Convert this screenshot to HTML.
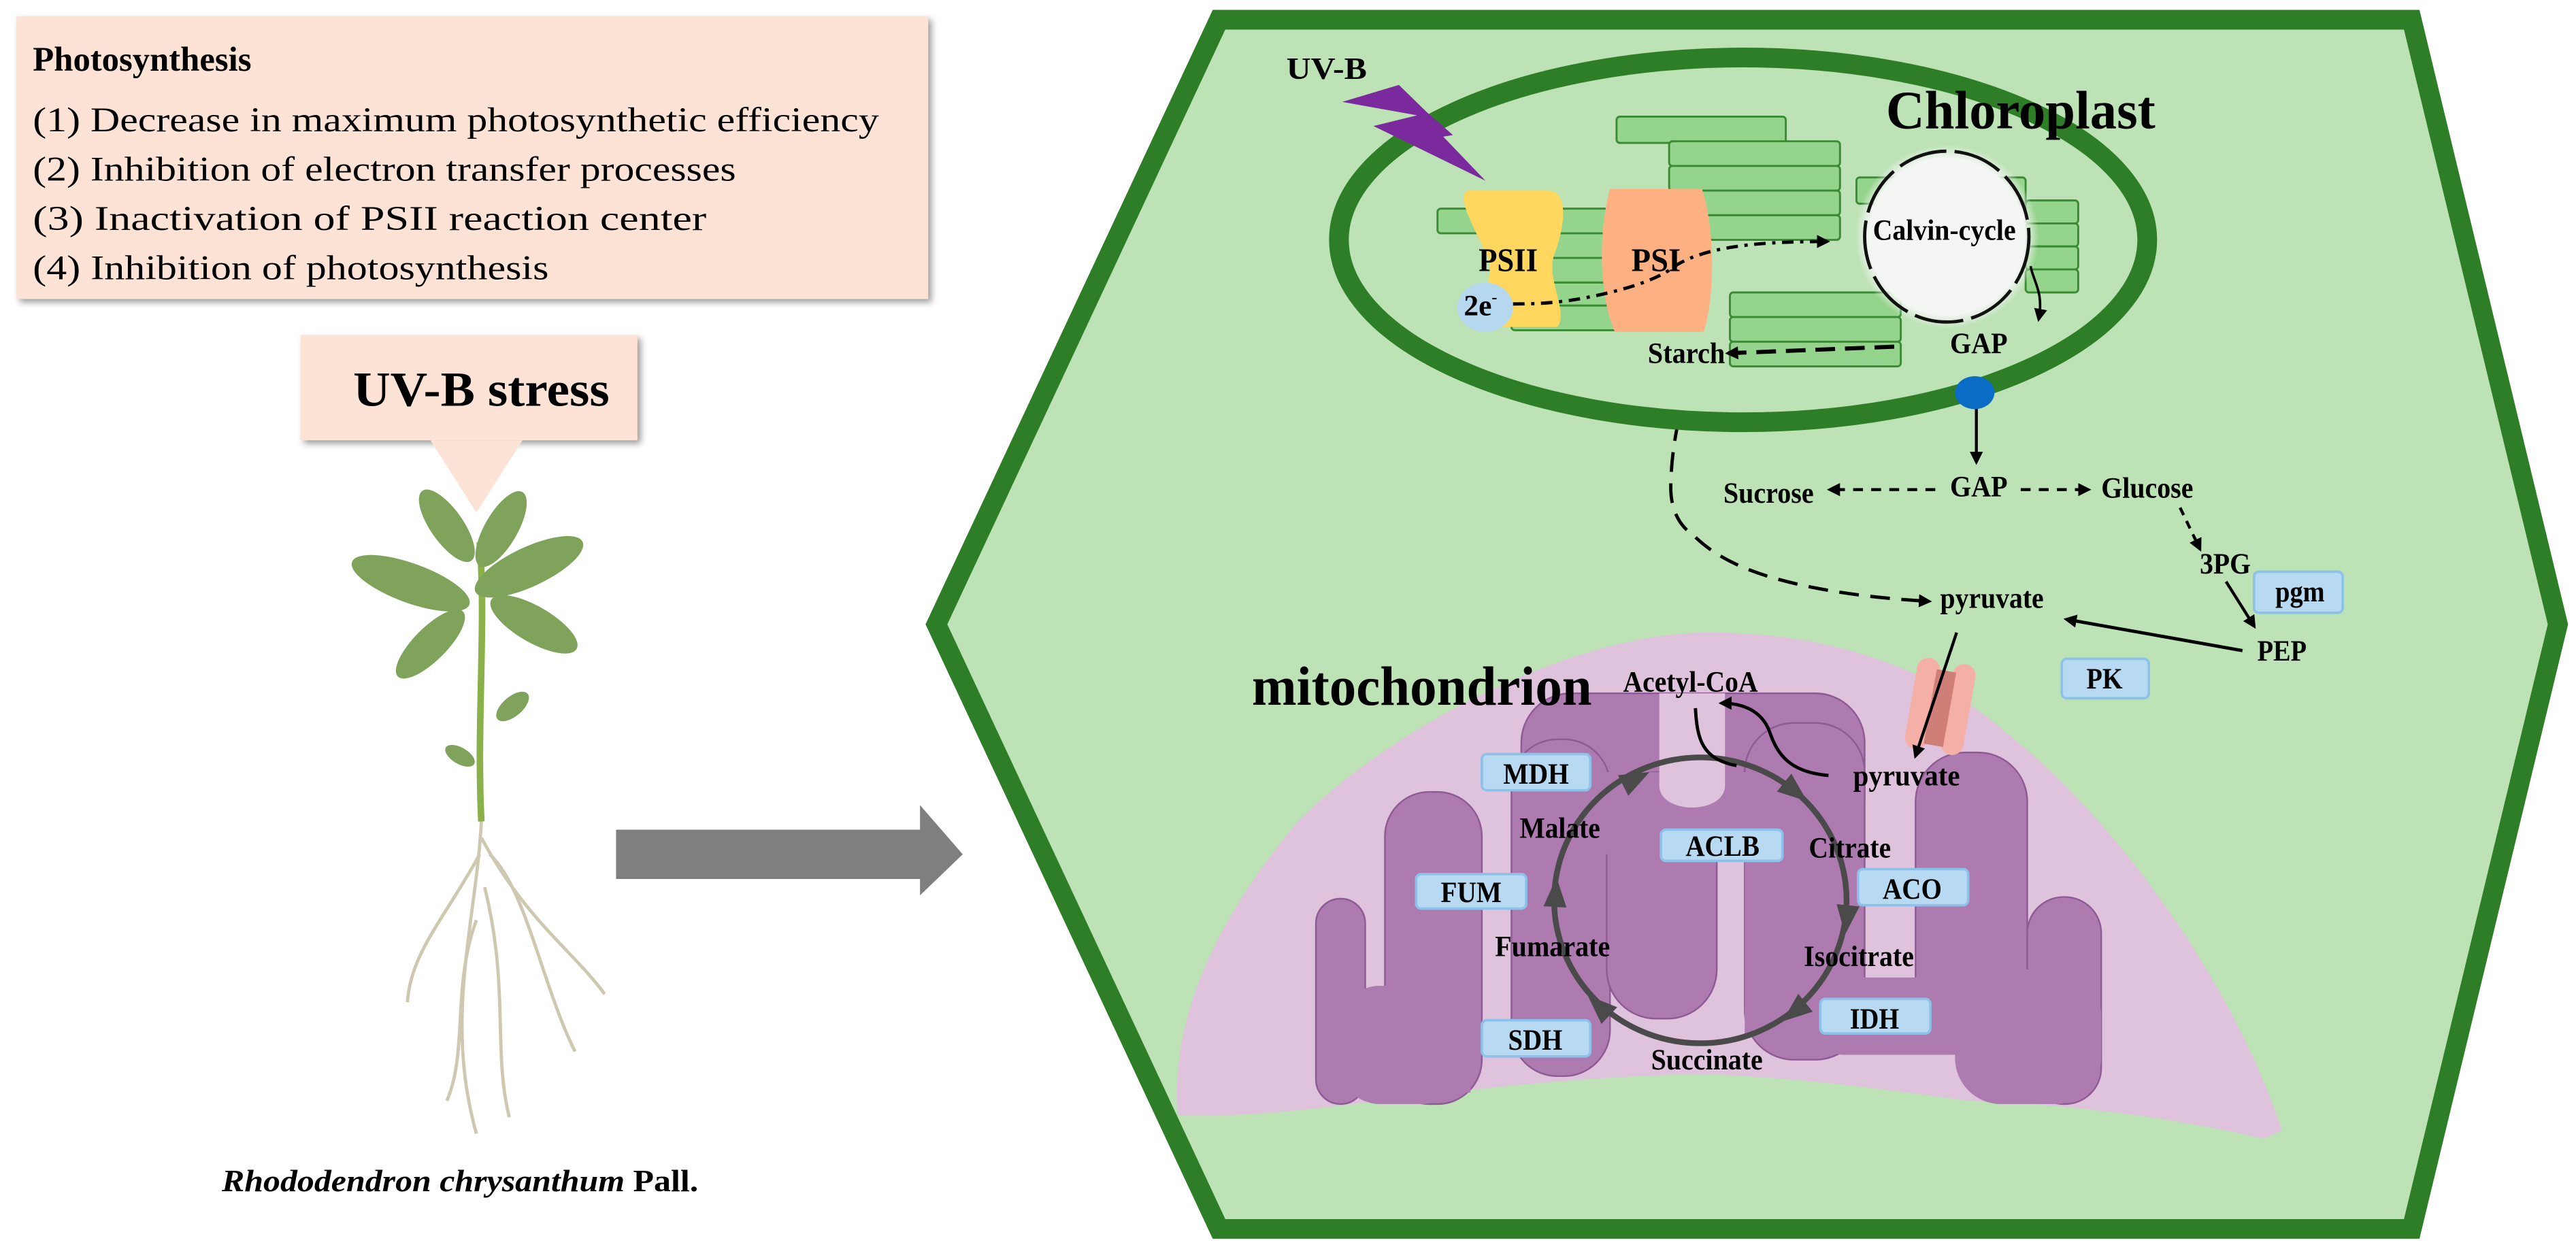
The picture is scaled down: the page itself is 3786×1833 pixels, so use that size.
<!DOCTYPE html>
<html><head><meta charset="utf-8"><style>
html,body{margin:0;padding:0;background:#fff;}
svg{display:block;}
text{font-family:"Liberation Serif",serif;font-weight:bold;fill:#000;}
</style></head><body>
<svg width="3786" height="1833" viewBox="0 0 1568 759" preserveAspectRatio="none" xmlns="http://www.w3.org/2000/svg">
<defs>
<marker id="ah" markerWidth="8" markerHeight="8" refX="6" refY="4" orient="auto" markerUnits="userSpaceOnUse"><path d="M0,0 L8,4 L0,8 Z" fill="#000"/></marker>
<filter id="sh"><feDropShadow dx="2" dy="2" stdDeviation="2" flood-color="#999"/></filter>
<radialGradient id="cg"><stop offset="0.85" stop-color="#f4f6f4"/><stop offset="1" stop-color="#f4f6f4" stop-opacity="0"/></radialGradient>
</defs>

<!-- Left panel -->
<rect x="10" y="10" width="555" height="172" fill="#fde3d5" filter="url(#sh)"/>
<text x="20" y="43" font-size="21">Photosynthesis</text>
<g font-size="21">
<text x="20" y="80" textLength="515" lengthAdjust="spacingAndGlyphs" style="font-weight:normal">(1) Decrease in maximum photosynthetic efficiency</text>
<text x="20" y="110" textLength="428" lengthAdjust="spacingAndGlyphs" style="font-weight:normal">(2) Inhibition of electron transfer processes</text>
<text x="20" y="140" textLength="410" lengthAdjust="spacingAndGlyphs" style="font-weight:normal">(3) Inactivation of PSII reaction center</text>
<text x="20" y="170" textLength="314" lengthAdjust="spacingAndGlyphs" style="font-weight:normal">(4) Inhibition of photosynthesis</text>
</g>

<rect x="183" y="204" width="205" height="64" fill="#fde3d5" filter="url(#sh)"/>
<path d="M262,268 L318,268 L290,312 Z" fill="#fde3d5"/>
<text x="215" y="247" font-size="30" textLength="156" lengthAdjust="spacingAndGlyphs">UV-B stress</text>

<!-- plant -->
<g>
<path d="M292,330 C296,380 290,440 293,500" stroke="#8ab04a" stroke-width="4" fill="none"/>
<g fill="#7fa35a">
<ellipse cx="250" cy="355" rx="38" ry="12" transform="rotate(20 250 355)"/>
<ellipse cx="322" cy="345" rx="36" ry="12" transform="rotate(-25 322 345)"/>
<ellipse cx="305" cy="322" rx="26" ry="10" transform="rotate(-60 305 322)"/>
<ellipse cx="272" cy="320" rx="26" ry="10" transform="rotate(55 272 320)"/>
<ellipse cx="325" cy="380" rx="30" ry="11" transform="rotate(30 325 380)"/>
<ellipse cx="262" cy="392" rx="28" ry="10" transform="rotate(-45 262 392)"/>
<ellipse cx="312" cy="430" rx="12" ry="6" transform="rotate(-40 312 430)"/>
<ellipse cx="280" cy="460" rx="10" ry="5" transform="rotate(30 280 460)"/>
</g>
<g stroke="#cfc8b0" stroke-width="2" fill="none">
<path d="M293,500 C290,560 270,620 290,690"/>
<path d="M293,510 C320,560 350,580 368,605"/>
<path d="M292,520 C270,560 250,580 248,610"/>
<path d="M295,540 C310,600 300,640 310,680"/>
<path d="M290,560 C275,600 285,640 272,670"/>
<path d="M298,520 C320,540 330,600 350,640"/>
</g>
</g>
<text x="135" y="725" font-size="19" textLength="290" lengthAdjust="spacingAndGlyphs"><tspan font-style="italic">Rhododendron chrysanthum</tspan> Pall.</text>

<!-- gray arrow -->
<rect x="375" y="505" width="190" height="30" fill="#7f7f7f"/>
<path d="M560,490 L586,520 L560,545 Z" fill="#7f7f7f"/>

<!-- Hexagon cell -->
<path d="M742,12 L1468,12 L1557,380 L1468,748 L742,748 L570,380 Z" fill="#bce2b6" stroke="#2e7d27" stroke-width="12"/>

<!-- Mitochondrion -->
<path d="M717,679 C712,620 740,560 790,500 C850,440 960,385 1040,385 C1120,385 1180,410 1220,445 C1290,500 1360,600 1389,688 L1378,693 C1320,680 1260,672 1198,670 C1140,662 1080,654 1027,654 C950,656 890,664 839,670 C800,675 760,680 717,679 Z" fill="#dfc3dd"/>
<g fill="#ad7bb0" stroke="#8d5a93" stroke-width="1">
<rect x="801" y="547" width="30" height="125" rx="15"/>
<rect x="843" y="482" width="59" height="190" rx="27"/>
<rect x="926" y="422" width="209" height="95" rx="30"/>
<rect x="920" y="450" width="60" height="205" rx="28"/>
<rect x="978" y="470" width="67" height="150" rx="30"/>
<rect x="1062" y="440" width="73" height="205" rx="30"/>
<rect x="1166" y="458" width="68" height="170" rx="30"/>
<rect x="1234" y="546" width="45" height="126" rx="22"/>
</g>
<g fill="#ad7bb0">
<rect x="815" y="600" width="75" height="72" rx="25"/>
<rect x="1100" y="595" width="110" height="47" rx="22"/>
<rect x="1190" y="590" width="89" height="82" rx="28"/>
<rect x="930" y="470" width="200" height="50"/>
<rect x="1062" y="480" width="60" height="150"/>
<rect x="1170" y="480" width="60" height="140"/>
<rect x="850" y="500" width="45" height="165"/>
<rect x="925" y="470" width="50" height="170"/>
</g>
<path d="M1010,422 L1010,478 C1010,496 1050,496 1050,478 L1050,422 Z" fill="#dfc3dd"/>
<path d="M1046,622 L1046,520 C1046,506 1060,506 1060,520 L1060,622 Z" fill="#dfc3dd"/>

<!-- TCA cycle -->
<ellipse cx="1035" cy="548" rx="89" ry="87" fill="none" stroke="#4a4a4a" stroke-width="3.5"/>
<g fill="#4a4a4a">
<g transform="translate(1093,482) rotate(39)"><path d="M-9,-7 L9,0 L-9,7Z"/></g>
<g transform="translate(1124,560) rotate(96)"><path d="M-9,-7 L9,0 L-9,7Z"/></g>
<g transform="translate(1092,616) rotate(141)"><path d="M-9,-7 L9,0 L-9,7Z"/></g>
<g transform="translate(973,612) rotate(223)"><path d="M-9,-7 L9,0 L-9,7Z"/></g>
<g transform="translate(947,543) rotate(273)"><path d="M-9,-7 L9,0 L-9,7Z"/></g>
<g transform="translate(996,474) rotate(333)"><path d="M-9,-7 L9,0 L-9,7Z"/></g>
</g>
<path d="M1032,431 C1033,450 1036,462 1057,466" stroke="#000" stroke-width="2" fill="none"/>
<path d="M1113,472 C1090,470 1082,460 1077,445 C1072,432 1060,428 1048,428" stroke="#000" stroke-width="2" fill="none" marker-end="url(#ah)"/>

<!-- transporter -->
<g transform="rotate(10 1181 430)">
<rect x="1163" y="402" width="14" height="56" rx="7" fill="#f4b0a6"/>
<rect x="1185" y="402" width="14" height="56" rx="7" fill="#f4b0a6"/>
<rect x="1175" y="408" width="12" height="46" fill="#cf7f77"/>
</g>
<line x1="1191" y1="385" x2="1166" y2="460" stroke="#000" stroke-width="1.8" marker-end="url(#ah)"/>

<!-- enzyme boxes -->
<g fill="#b7daf2" stroke="#8cc2ea" stroke-width="1.5">
<rect x="902" y="459" width="66" height="22" rx="3"/>
<rect x="1011" y="505" width="74" height="19" rx="3"/>
<rect x="1131" y="529" width="67" height="22" rx="3"/>
<rect x="862" y="532" width="67" height="21" rx="3"/>
<rect x="1108" y="608" width="67" height="21" rx="3"/>
<rect x="902" y="621" width="66" height="22" rx="3"/>
<rect x="1255" y="401" width="53" height="24" rx="3"/>
<rect x="1372" y="348" width="54" height="25" rx="3"/>
</g>
<g font-size="18">
<text x="915" y="477" textLength="40" lengthAdjust="spacingAndGlyphs">MDH</text>
<text x="1026" y="521" textLength="45" lengthAdjust="spacingAndGlyphs">ACLB</text>
<text x="1146" y="547" textLength="36" lengthAdjust="spacingAndGlyphs">ACO</text>
<text x="877" y="549" textLength="37" lengthAdjust="spacingAndGlyphs">FUM</text>
<text x="1126" y="626" textLength="30" lengthAdjust="spacingAndGlyphs">IDH</text>
<text x="918" y="639" textLength="33" lengthAdjust="spacingAndGlyphs">SDH</text>
<text x="1270" y="419" textLength="22" lengthAdjust="spacingAndGlyphs">PK</text>
<text x="1385" y="366" textLength="30" lengthAdjust="spacingAndGlyphs">pgm</text>
<text x="925" y="510" textLength="49" lengthAdjust="spacingAndGlyphs">Malate</text>
<text x="1101" y="522" textLength="50" lengthAdjust="spacingAndGlyphs">Citrate</text>
<text x="910" y="582" textLength="70" lengthAdjust="spacingAndGlyphs">Fumarate</text>
<text x="1098" y="588" textLength="67" lengthAdjust="spacingAndGlyphs">Isocitrate</text>
<text x="1005" y="651" textLength="68" lengthAdjust="spacingAndGlyphs">Succinate</text>
<text x="988" y="421" textLength="82" lengthAdjust="spacingAndGlyphs">Acetyl-CoA</text>
<text x="1128" y="478" textLength="65" lengthAdjust="spacingAndGlyphs">pyruvate</text>
<text x="1181" y="370" textLength="63" lengthAdjust="spacingAndGlyphs">pyruvate</text>
<text x="1374" y="402" textLength="30" lengthAdjust="spacingAndGlyphs">PEP</text>
<text x="1339" y="349" textLength="31" lengthAdjust="spacingAndGlyphs">3PG</text>
<text x="1279" y="303" textLength="56" lengthAdjust="spacingAndGlyphs">Glucose</text>
<text x="1049" y="306" textLength="55" lengthAdjust="spacingAndGlyphs">Sucrose</text>
<text x="1187" y="302" textLength="35" lengthAdjust="spacingAndGlyphs">GAP</text>
</g>
<text x="762" y="429" font-size="34" textLength="207" lengthAdjust="spacingAndGlyphs">mitochondrion</text>

<!-- cytosol arrows -->
<line x1="1203" y1="224" x2="1203" y2="281" stroke="#000" stroke-width="1.8" marker-end="url(#ah)"/>
<line x1="1178" y1="298" x2="1114" y2="298" stroke="#000" stroke-width="1.8" stroke-dasharray="6,5" marker-end="url(#ah)"/>
<line x1="1230" y1="298" x2="1271" y2="298" stroke="#000" stroke-width="1.8" stroke-dasharray="6,5" marker-end="url(#ah)"/>
<line x1="1327" y1="309" x2="1339" y2="334" stroke="#000" stroke-width="1.8" stroke-dasharray="5,4" marker-end="url(#ah)"/>
<line x1="1355" y1="354" x2="1372" y2="381" stroke="#000" stroke-width="1.8" marker-end="url(#ah)"/>
<line x1="1365" y1="396" x2="1258" y2="377" stroke="#000" stroke-width="2" marker-end="url(#ah)"/>
<path d="M1026,238 C1020,260 1017,280 1017,297 C1017,310 1022,320 1031,326 C1045,340 1065,348 1084,353 C1110,360 1140,364 1174,366" stroke="#000" stroke-width="2" fill="none" stroke-dasharray="12,7" marker-end="url(#ah)"/>

<!-- Chloroplast -->
<ellipse cx="1061" cy="146" rx="246" ry="111" fill="#bce2b6" stroke="#2e7d27" stroke-width="12"/>
<g fill="#95d48c" stroke="#3a8a34" stroke-width="1.2">
<rect x="984" y="71" width="103" height="16" rx="2"/>
<rect x="1016" y="86" width="104" height="15" rx="2"/>
<rect x="1016" y="101" width="104" height="15" rx="2"/>
<rect x="1016" y="116" width="104" height="15" rx="2"/>
<rect x="1016" y="131" width="104" height="15" rx="2"/>
<rect x="875" y="127" width="105" height="15" rx="2"/>
<rect x="930" y="142" width="55" height="15" rx="2"/>
<rect x="930" y="157" width="55" height="15" rx="2"/>
<rect x="930" y="172" width="55" height="14" rx="2"/>
<rect x="920" y="186" width="65" height="15" rx="2"/>
<rect x="1130" y="108" width="103" height="16" rx="2"/>
<rect x="1233" y="122" width="32" height="14" rx="2"/>
<rect x="1233" y="136" width="32" height="14" rx="2"/>
<rect x="1233" y="150" width="32" height="14" rx="2"/>
<rect x="1233" y="164" width="32" height="14" rx="2"/>
<rect x="1053" y="178" width="104" height="15" rx="2"/>
<rect x="1053" y="193" width="104" height="15" rx="2"/>
<rect x="1053" y="208" width="104" height="15" rx="2"/>
</g>
<path d="M895,116 L942,116 C956,116 952,140 946,155 C941,170 955,190 948,199 L905,199 C895,190 912,170 905,155 C898,140 884,116 895,116 Z" fill="#ffd75e"/>
<path d="M980,115 L1036,115 C1044,140 1044,180 1037,202 L983,202 C973,180 973,140 980,115 Z" fill="#fdb182"/>
<ellipse cx="904" cy="187" rx="17" ry="15" fill="#b5d8ee"/>
<text x="900" y="165" font-size="20" textLength="36" lengthAdjust="spacingAndGlyphs">PSII</text>
<text x="993" y="165" font-size="20" textLength="30" lengthAdjust="spacingAndGlyphs">PSI</text>
<text x="891" y="192" font-size="18">2e<tspan font-size="10" dy="-8">-</tspan></text>
<path d="M921,185 C940,185 955,184 980,178 C1000,173 1012,168 1021,161 C1040,150 1070,147 1112,147" stroke="#000" stroke-width="2" fill="none" stroke-dasharray="7,4,2,4" marker-end="url(#ah)"/>
<circle cx="1185" cy="144" r="56" fill="url(#cg)"/>
<ellipse cx="1185" cy="144" rx="50" ry="52" fill="none" stroke="#111" stroke-width="2" stroke-dasharray="30,5"/>
<text x="1140" y="146" font-size="18" textLength="87" lengthAdjust="spacingAndGlyphs">Calvin-cycle</text>
<path d="M1236,162 C1238,172 1244,178 1241,194" stroke="#000" stroke-width="1.5" fill="none" marker-end="url(#ah)"/>
<line x1="1153" y1="211" x2="1052" y2="215" stroke="#000" stroke-width="2.5" stroke-dasharray="12,6" marker-end="url(#ah)"/>
<ellipse cx="1202" cy="239" rx="12" ry="10" fill="#0a6cc4"/>
<text x="1187" y="215" font-size="18" textLength="35" lengthAdjust="spacingAndGlyphs">GAP</text>
<text x="1003" y="221" font-size="18" textLength="47" lengthAdjust="spacingAndGlyphs">Starch</text>
<text x="1148" y="78" font-size="33" textLength="164" lengthAdjust="spacingAndGlyphs">Chloroplast</text>

<!-- UV-B -->
<text x="783" y="48" font-size="19" textLength="49" lengthAdjust="spacingAndGlyphs">UV-B</text>
<path d="M851.5,51.7 L817,62 L862.6,70.2 L836,76.7 L904.2,110 L878.5,83.2 L884.4,82.2 L868.6,68.4 Z" fill="#7b2a9e"/>
</svg>
</body></html>
